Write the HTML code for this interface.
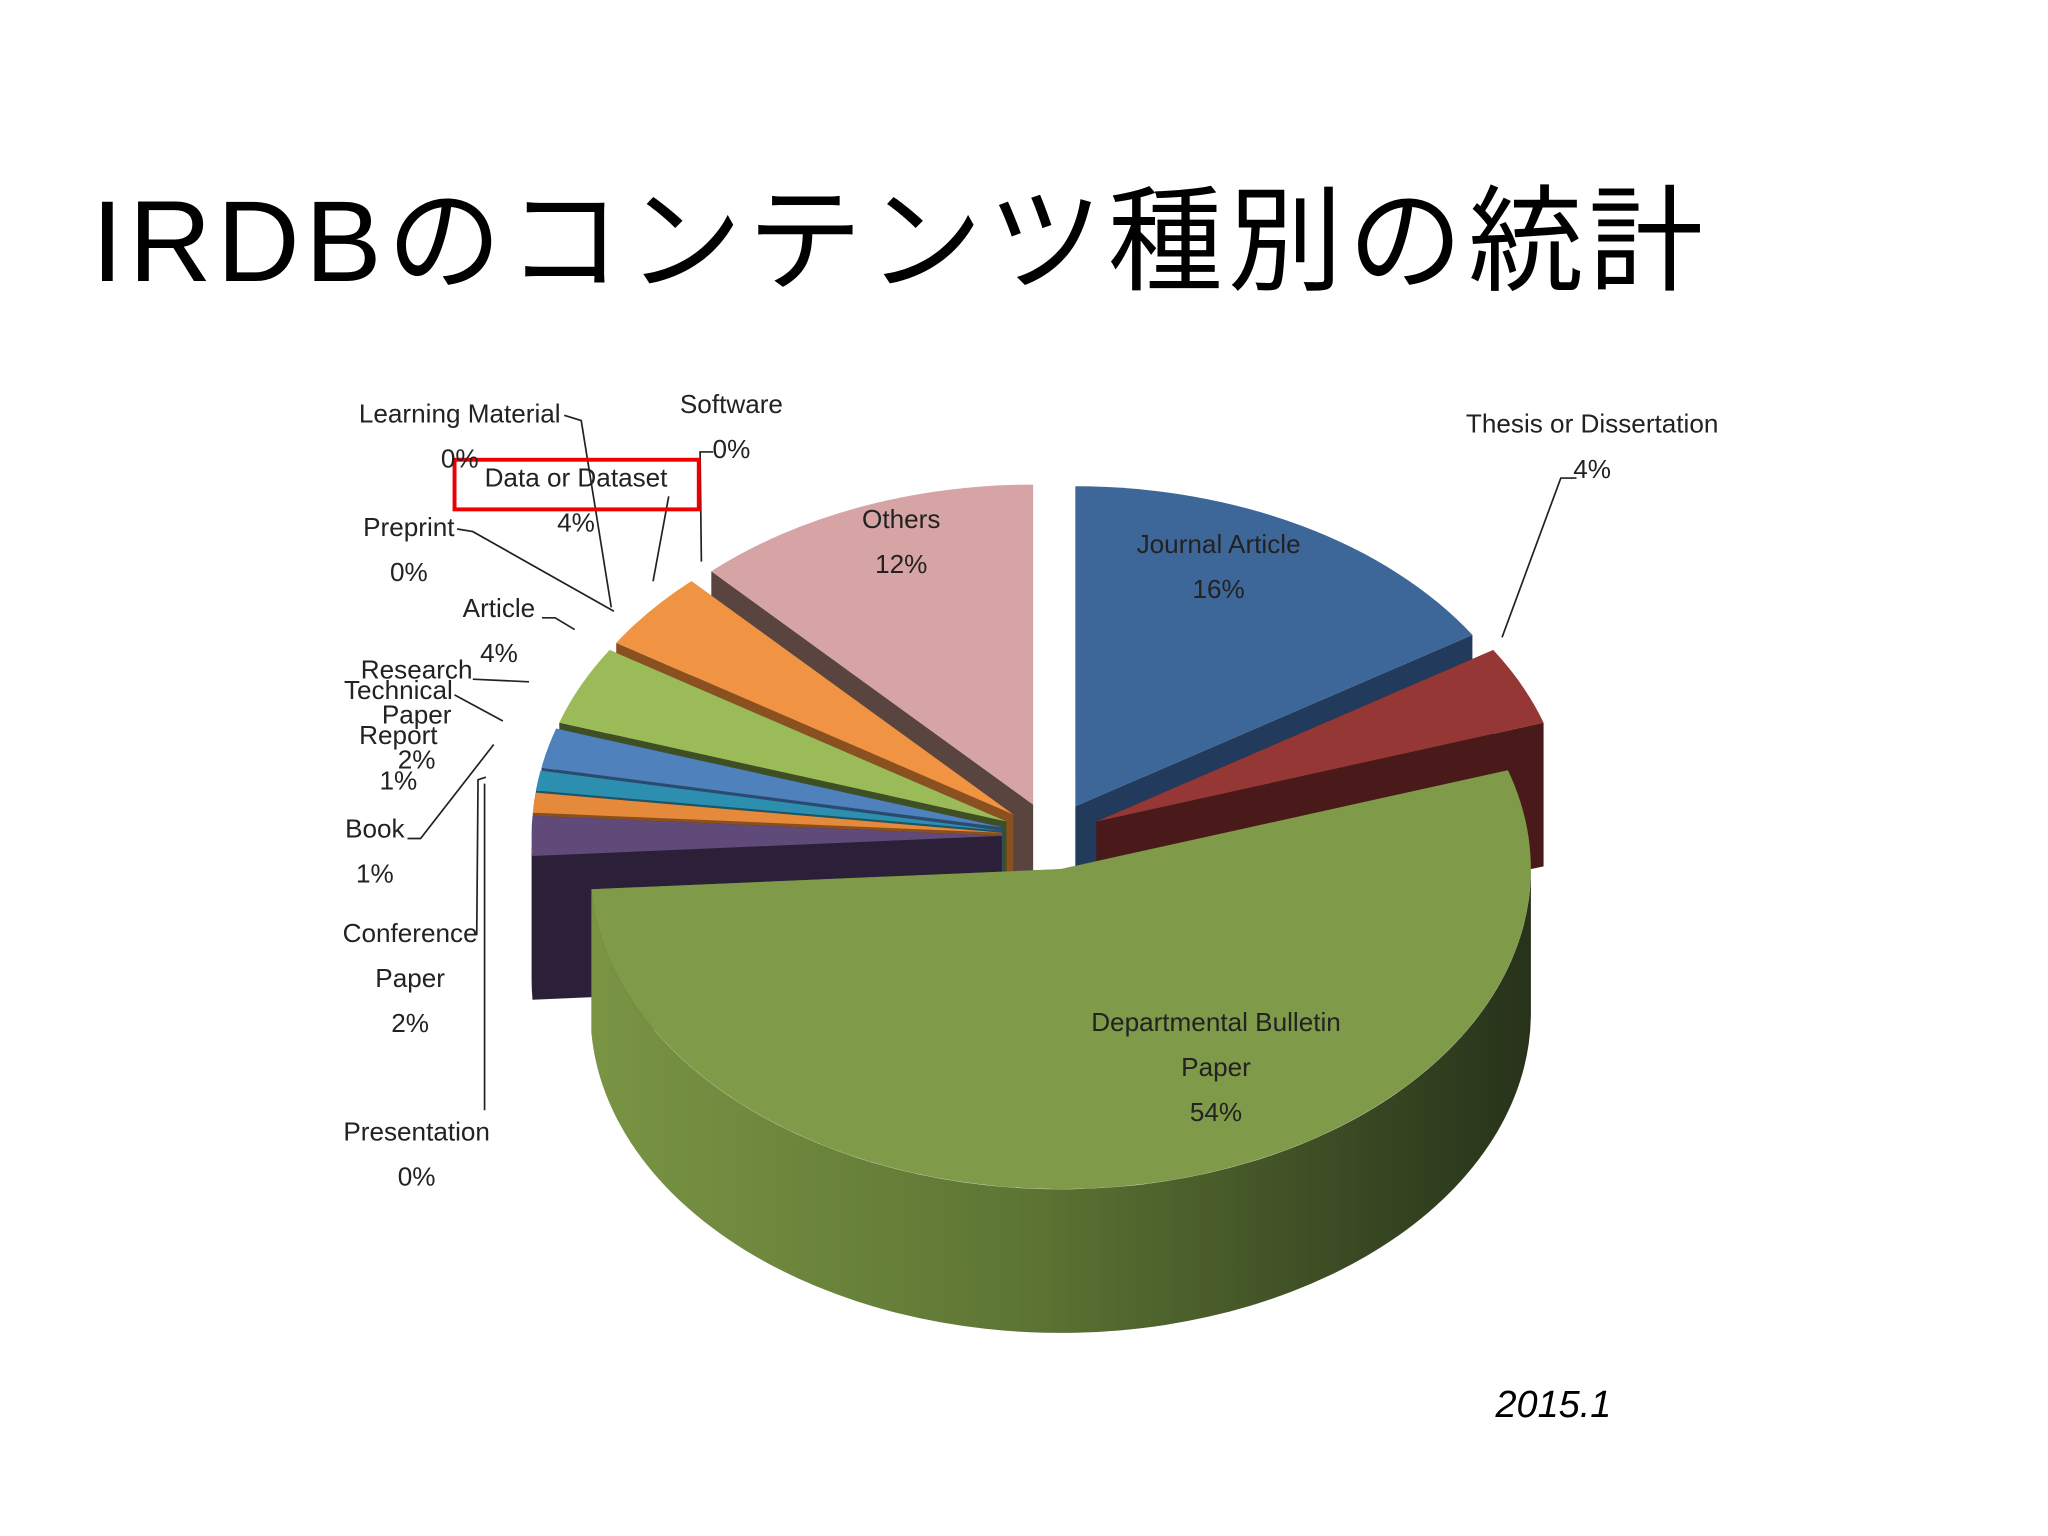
<!DOCTYPE html>
<html><head><meta charset="utf-8">
<style>
html,body{margin:0;padding:0;background:#fff;width:2048px;height:1536px;overflow:hidden}
svg{display:block}
.lbl{font-family:"Liberation Sans Narrow","Liberation Sans",sans-serif;font-size:20px;fill:#222}
</style></head>
<body>
<svg id="chart" width="2048" height="1536" viewBox="0 0 1568 1176" xmlns="http://www.w3.org/2000/svg">
<text x="70" y="215" font-family="'Liberation Sans','Noto Sans CJK JP',sans-serif" font-size="88" letter-spacing="4" fill="#000">IRDBのコンテンツ種別の統計</text>
<text x="1145" y="1085" font-family="'Liberation Sans',sans-serif" font-size="29" font-style="italic" fill="#000">2015.1</text>
<g id="slices"></g>
<g id="leaders" stroke="#222" stroke-width="1.3" fill="none">
<polyline points="432,318 445,322 468,465"/>
<polyline points="546,346 536,346 537,430"/>
<polyline points="512,380 500,445"/>
<polyline points="350,405 362,407 470,468"/>
<polyline points="415,473 425,473 440,482"/>
<polyline points="362,520 405,522"/>
<polyline points="348,532 385,552"/>
<polyline points="312,642 322,642 378,570"/>
<polyline points="365,716 366,597 372,595"/>
<polyline points="371,850 371,600"/>
<polyline points="1207,366 1195,366 1150,488"/>
</g>
<rect x="348" y="352" width="187" height="38" fill="none" stroke="#e00" stroke-width="3"/>
<g id="labels"></g>
</svg>
<script>
const categories=["Journal Article","Thesis or Dissertation","Departmental Bulletin Paper","Presentation","Conference Paper","Book","Technical Report","Research Paper","Article","Preprint","Learning Material","Data or Dataset","Software","Others"];
const values=[16,4,54,0,2,1,1,2,4,0,0,4,0,12];
const topColors=["#3d6799","#953735","#7f9a48","#4bacc6","#5f4a7a","#e5893a","#2d8fb0","#4f81bd","#9bbb59","#4bacc6","#1f497d","#f09444","#1f497d","#d6a4a4"];
const sideColors=["#223a5c","#4a1a1a","#4f6530","#2a6a7a","#2b2038","#8a4f1e","#1b5566","#2c4a70","#3e4f24","#2a6a7a","#10283f","#8a5020","#10283f","#5a4440"];
const labelText=[["Journal Article"],["Thesis or Dissertation"],["Departmental Bulletin","Paper"],["Presentation"],["Conference","Paper"],["Book"],["Technical","Report"],["Research","Paper"],["Article"],["Preprint"],["Learning Material"],["Data or Dataset"],["Software"],["Others"]];
const labelPos=[[933,418],[1219,326],[931,784],[319,868],[314,716],[287,636],[305,530],[319,514],[382,467],[313,405],[352,318],[441,367],[560,311],[690,399]];
const NS="http://www.w3.org/2000/svg";
const cx=805,cy=640,rx=360,ry=245,depth=110,explode=38;
const total=values.reduce((a,b)=>a+b,0);
function pt(a,ox,oy,dy){return [cx+ox+rx*Math.sin(a),cy+oy-ry*Math.cos(a)+(dy||0)];}
function f(p){return p[0].toFixed(1)+","+p[1].toFixed(1);}
const g=document.getElementById('slices');
let acc=0;const sl=[];
values.forEach((v,i)=>{const a0=acc/total*2*Math.PI;acc+=v;const a1=acc/total*2*Math.PI;sl.push({i,a0,a1,mid:(a0+a1)/2});});
sl.filter(s=>s.a1-s.a0>1e-6).sort((a,b)=>Math.cos(b.mid)-Math.cos(a.mid)).forEach(s=>{
  const ox=explode*Math.sin(s.mid),oy=-explode*(ry/rx)*Math.cos(s.mid);
  const c=[cx+ox,cy+oy],cd=[c[0],c[1]+depth];
  const grp=document.createElementNS(NS,'g');
  
  
  [s.a0,s.a1].forEach(a=>{const p=pt(a,ox,oy),pd=pt(a,ox,oy,depth);
    const w=document.createElementNS(NS,'path');
    w.setAttribute('d','M'+f(c)+'L'+f(p)+'L'+f(pd)+'L'+f(cd)+'Z');
    w.setAttribute('fill',sideColors[s.i]);grp.appendChild(w);});
  const st=Math.max(s.a0,Math.PI/2),en=Math.min(s.a1,1.5*Math.PI);
  if(en>st){const p1=pt(st,ox,oy),p2=pt(en,ox,oy),p3=pt(en,ox,oy,depth),p4=pt(st,ox,oy,depth);
    const lg=(en-st)>Math.PI?1:0;
    const sd=document.createElementNS(NS,'path');
    sd.setAttribute('d','M'+f(p1)+'A'+rx+' '+ry+' 0 '+lg+' 1 '+f(p2)+'L'+f(p3)+'A'+rx+' '+ry+' 0 '+lg+' 0 '+f(p4)+'Z');
    sd.setAttribute('fill',s.i===2?'url(#greenSide)':sideColors[s.i]);grp.appendChild(sd);}
  const p0=pt(s.a0,ox,oy),p1=pt(s.a1,ox,oy);const lg=(s.a1-s.a0)>Math.PI?1:0;
  const tp=document.createElementNS(NS,'path');
  tp.setAttribute('d','M'+f(c)+'L'+f(p0)+'A'+rx+' '+ry+' 0 '+lg+' 1 '+f(p1)+'Z');
  tp.setAttribute('fill',topColors[s.i]);grp.appendChild(tp);
  g.appendChild(grp);
});
const defs=document.createElementNS(NS,'defs');
defs.innerHTML='<linearGradient id="greenSide" x1="0" x2="1" y1="0" y2="0"><stop offset="0" stop-color="#7a9444"/><stop offset="0.45" stop-color="#5e7634"/><stop offset="1" stop-color="#27321a"/></linearGradient>';
document.getElementById('chart').prepend(defs);
const lg=document.getElementById('labels');
categories.forEach((c,i)=>{
  const lines=labelText[i].concat([Math.round(values[i]/total*100)+"%"]);
  lines.forEach((t,j)=>{const tx=document.createElementNS(NS,'text');
    
    
    tx.setAttribute('class','lbl');tx.setAttribute('x',labelPos[i][0]);tx.setAttribute('y',labelPos[i][1]+j*34.5);
    tx.setAttribute('text-anchor','middle');tx.setAttribute('dominant-baseline','middle');tx.textContent=t;lg.appendChild(tx);});
});
</script>
</body></html>
